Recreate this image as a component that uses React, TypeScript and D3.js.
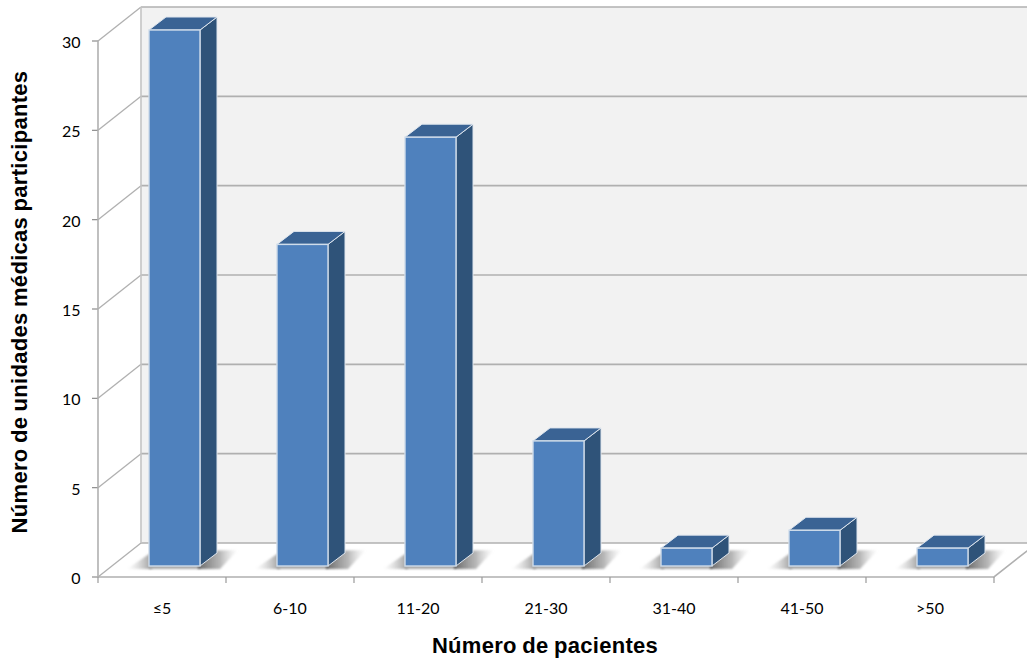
import React from "react";
import * as d3 from "d3";

const categories = ["≤5", "6-10", "11-20", "21-30", "31-40", "41-50", ">50"];
const values = [30, 18, 24, 7, 1, 2, 1];
const yTicks = [0, 5, 10, 15, 20, 25, 30];
const xTitle = "Número de pacientes";
const yTitle = "Número de unidades médicas participantes";

const W = 1027, H = 659;
const x = d3.scaleBand<string>().domain(categories).range([98, 994]);
const y = d3.scaleLinear().domain([0, 30]).range([577, 41]);
const DX = 43, DY = -34;
const BDX = 17, BDY = -13;
const BAR_OFF_Y = -11;
const BAR_W = 51, BAR_PAD = 51;
const GRID = "#b0b0b0";
const LABEL_FONT = "Lato, 'Open Sans', sans-serif";
const TITLE_FONT = "'Liberation Sans', Arial, sans-serif";
const pts = (a: number[][]) => a.map((p) => p.join(",")).join(" ");

export default function App() {
  return (
    <svg width={W} height={H} style={{ position: "absolute", left: 0, top: 0, background: "#fff" }}>
      <defs>
        <linearGradient id="shR" x1="0" x2="1" y1="0" y2="0">
          <stop offset="0" stopColor="#555" stopOpacity="0.9" />
          <stop offset="0.55" stopColor="#888" stopOpacity="0.6" />
          <stop offset="1" stopColor="#bbb" stopOpacity="0" />
        </linearGradient>
        <linearGradient id="shL" x1="1" x2="0" y1="0" y2="0">
          <stop offset="0" stopColor="#777" stopOpacity="0.75" />
          <stop offset="1" stopColor="#bbb" stopOpacity="0" />
        </linearGradient>
        <filter id="soft" x="-30%" y="-40%" width="160%" height="180%">
          <feGaussianBlur stdDeviation="1.3" />
        </filter>
      </defs>

      {/* back wall */}
      <rect x={98 + DX} y={y(30) + DY} width={W - 98 - DX} height={y(0) - y(30)} fill="#f2f2f2" />
      {yTicks.map((t) => (
        <g key={t}>
          <line x1={98 + DX} x2={W} y1={y(t) + DY} y2={y(t) + DY} stroke={GRID} strokeWidth={1.6} />
          <line x1={98} x2={98 + DX} y1={y(t)} y2={y(t) + DY} stroke={GRID} strokeWidth={1.3} />
          <line x1={92} x2={98} y1={y(t)} y2={y(t)} stroke="#8c8c8c" strokeWidth={1.2} />
          <text x={80.5} y={y(t) + 3} fontFamily={LABEL_FONT} fontSize={16} textAnchor="end" dominantBaseline="middle" fill="#000">
            {t}
          </text>
        </g>
      ))}
      <line x1={98 + DX} x2={98 + DX} y1={y(30) + DY} y2={y(0) + DY} stroke="#c4c4c4" strokeWidth={1.6} />
      <line x1={98} x2={98} y1={y(30)} y2={y(0)} stroke={GRID} strokeWidth={1.6} />

      {/* floor */}
      <polyline points={pts([[98, y(0)], [994, y(0)], [994 + DX, y(0) + DY]])} fill="none" stroke={GRID} strokeWidth={1.6} />
      {d3.range(0, categories.length + 1).map((i) => {
        const tx = 98 + x.step() * i;
        return <line key={i} x1={tx} x2={tx} y1={y(0)} y2={y(0) + 6} stroke="#9a9a9a" strokeWidth={1.2} />;
      })}

      {/* bars */}
      {categories.map((c, i) => {
        const x0 = (x(c) as number) + BAR_PAD;
        const x1 = x0 + BAR_W;
        const yb = y(0) + BAR_OFF_Y;
        const yt = y(values[i]) + BAR_OFF_Y;
        return (
          <g key={c}>
            <polygon points={pts([[x0 - 22, yb + 3], [x0, yb - 12], [x0 + 3, yb - 12], [x0 + 3, yb + 3]])} fill="url(#shL)" filter="url(#soft)" />
            <polygon points={pts([[x0, yb + 3], [x0, yb - 2], [x1, yb - 2], [x1, yb + 3]])} fill="#aaa" filter="url(#soft)" />
            <polygon points={pts([[x1 - 2, yb + 3], [x1 - 2, yb - 15], [x1 + 38, yb - 16], [x1 + 20, yb + 3]])} fill="url(#shR)" filter="url(#soft)" />
            <polygon points={pts([[x1, yt], [x1 + BDX, yt + BDY], [x1 + BDX, yb + BDY], [x1, yb]])} fill="#2f5379" stroke="#dfe6ee" strokeWidth={1} strokeLinejoin="round" />
            <polygon points={pts([[x0, yt], [x0 + BDX, yt + BDY], [x1 + BDX, yt + BDY], [x1, yt]])} fill="#3a6394" stroke="#dfe6ee" strokeWidth={1} strokeLinejoin="round" />
            <rect x={x0} y={yt} width={BAR_W} height={yb - yt} fill="#4f81bd" stroke="#cfdcea" strokeWidth={1.4} />
          </g>
        );
      })}

      {categories.map((c) => (
        <text key={c} x={(x(c) as number) + x.bandwidth() / 2} y={610} fontFamily={LABEL_FONT} fontSize={16} textAnchor="middle" dominantBaseline="middle" fill="#000">
          {c}
        </text>
      ))}
      <text x={545} y={647} fontFamily={TITLE_FONT} fontWeight="bold" fontSize={22} letterSpacing={0.3} wordSpacing={-1} textAnchor="middle" dominantBaseline="middle" fill="#000">
        {xTitle}
      </text>
      <text transform="translate(21,302) rotate(-90)" fontFamily={TITLE_FONT} fontWeight="bold" fontSize={22} letterSpacing={0.3} wordSpacing={-1} textAnchor="middle" dominantBaseline="middle" fill="#000">
        {yTitle}
      </text>
    </svg>
  );
}
